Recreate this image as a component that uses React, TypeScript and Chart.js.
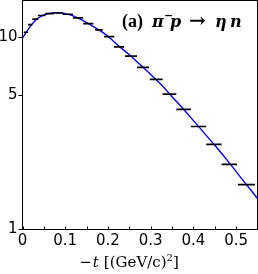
import React, { useEffect, useRef } from 'react';
import { Chart, registerables } from 'chart.js';
Chart.register(...registerables);

// measured bins (center of -t, half width, value)
const binCenters = [0.008, 0.018, 0.030, 0.045, 0.063, 0.084, 0.106, 0.130, 0.154, 0.179, 0.203, 0.226, 0.254, 0.282, 0.313, 0.344, 0.377, 0.412, 0.448, 0.484, 0.524];
const binHalfWidths = [0.005, 0.005, 0.007, 0.009, 0.010, 0.011, 0.012, 0.012, 0.012, 0.009, 0.012, 0.012, 0.014, 0.014, 0.015, 0.016, 0.017, 0.018, 0.018, 0.018, 0.020];
const binValues = [10.6, 11.6, 12.4, 12.95, 13.25, 13.35, 13.15, 12.6, 11.75, 10.9, 10.05, 8.9, 7.97, 6.96, 6.03, 5.06, 4.21, 3.43, 2.77, 2.18, 1.71];

// model curve
const curveT = [0, 0.01, 0.02, 0.03, 0.045, 0.06, 0.08, 0.10, 0.12, 0.14, 0.16, 0.18, 0.20, 0.225, 0.25, 0.275, 0.30, 0.325, 0.35, 0.375, 0.40, 0.425, 0.45, 0.475, 0.50, 0.525, 0.55];
const curveValues = [9.9, 10.7, 11.5, 12.2, 12.9, 13.25, 13.4, 13.25, 12.85, 12.25, 11.55, 10.85, 10.1, 9.0, 8.1, 7.2, 6.4, 5.65, 4.9, 4.27, 3.68, 3.18, 2.74, 2.35, 2.0, 1.7, 1.45];

const xTickValues = [0, 0.05, 0.1, 0.15, 0.2, 0.25, 0.3, 0.35, 0.4, 0.45, 0.5, 0.55];
const xTickLabels = ['0', '', '0.1', '', '0.2', '', '0.3', '', '0.4', '', '0.5', ''];
const yTickValues = [1, 5, 10];
const yTickLabels = ['1', '5', '10'];

const SERIF = '"Liberation Serif", "DejaVu Serif", serif';
const DSERIF = '"DejaVu Serif", serif';

type Piece = { t: string; font: string; dy?: number; gap?: number };

function drawPieces(ctx: CanvasRenderingContext2D, pieces: Piece[], x: number, y: number, align: 'left' | 'center') {
  let total = 0;
  for (const p of pieces) {
    ctx.font = p.font;
    total += ctx.measureText(p.t).width + (p.gap || 0);
  }
  let cx = align === 'center' ? x - total / 2 : x;
  ctx.textBaseline = 'alphabetic';
  ctx.textAlign = 'left';
  for (const p of pieces) {
    ctx.font = p.font;
    ctx.fillText(p.t, cx, y + (p.dy || 0));
    cx += ctx.measureText(p.t).width + (p.gap || 0);
  }
}

const framePlugin = {
  id: 'frame',
  afterDraw(chart: any) {
    const { ctx, chartArea } = chart;
    const xs = chart.scales.x;
    ctx.save();
    ctx.strokeStyle = '#000';
    ctx.lineWidth = 1;
    ctx.strokeRect(chartArea.left, chartArea.top, chartArea.right - chartArea.left, chartArea.bottom - chartArea.top);
    // inward x ticks
    ctx.beginPath();
    for (const v of xTickValues) {
      const px = Math.round(xs.getPixelForValue(v)) + 0.5;
      ctx.moveTo(px, chartArea.bottom);
      ctx.lineTo(px, chartArea.bottom - 3);
    }
    ctx.stroke();
    ctx.fillStyle = '#000';
    // panel title
    ctx.textBaseline = 'alphabetic';
    ctx.textAlign = 'left';
    const title: [string, string, number, number][] = [
      ['(a)', `bold 18px ${SERIF}`, 122, 27],
      ['π', `bold italic 16px ${DSERIF}`, 152, 27],
      ['−', `bold 11px ${DSERIF}`, 164, 19],
      ['p', `bold italic 16px ${DSERIF}`, 170, 27],
      ['→', `bold 20px ${DSERIF}`, 189, 27],
      ['η', `bold italic 16px ${DSERIF}`, 215, 27],
      ['n', `bold italic 16px ${DSERIF}`, 230, 27],
    ];
    for (const [t, f, x, y] of title) {
      ctx.font = f;
      ctx.fillText(t, x, y);
    }
    // x axis title
    drawPieces(ctx, [
      { t: '−', font: `15px ${DSERIF}`, gap: 1 },
      { t: 't', font: `italic 15px ${DSERIF}`, gap: 5 },
      { t: '[(GeV/c)', font: `15px ${DSERIF}` },
      { t: '2', font: `10px ${DSERIF}`, dy: -6 },
      { t: ']', font: `15px ${DSERIF}` },
    ], 129, 267, 'center');
    ctx.restore();
  },
};

export default function App() {
  const ref = useRef<HTMLCanvasElement>(null);
  useEffect(() => {
    document.body.style.margin = '0';
    const bars: any[] = [];
    binCenters.forEach((c, i) => {
      bars.push({ x: c - binHalfWidths[i], y: binValues[i] });
      bars.push({ x: c + binHalfWidths[i], y: binValues[i] });
      bars.push({ x: c + binHalfWidths[i], y: null });
    });
    const curve = curveT.map((t, i) => ({ x: t, y: curveValues[i] }));
    const chart = new Chart(ref.current!, {
      type: 'scatter',
      data: {
        datasets: [
          { data: bars, showLine: true, borderColor: '#000', borderWidth: 1.7, pointRadius: 0, spanGaps: false } as any,
          { data: curve, showLine: true, borderColor: '#0000ff', borderWidth: 1.4, pointRadius: 0, tension: 0.4, cubicInterpolationMode: 'monotone' } as any,
        ],
      },
      options: {
        responsive: false,
        animation: false,
        events: [],
        layout: { padding: { left: 0, right: 0.5, top: 0.5, bottom: 0 } },
        plugins: { legend: { display: false }, tooltip: { enabled: false } },
        scales: {
          x: {
            type: 'linear',
            min: 0,
            max: 0.55,
            afterBuildTicks: (s: any) => { s.ticks = xTickValues.map((v) => ({ value: v })); },
            afterFit: (s: any) => { s.height = 44.5; s.paddingLeft = 0; s.paddingRight = 0; },
            ticks: {
              callback: (_v: any, i: number) => xTickLabels[i],
              font: { family: 'DejaVu Sans', size: 15 },
              color: '#000',
              padding: 3,
              maxRotation: 0,
              autoSkip: false,
            },
            grid: { display: true, drawOnChartArea: false, drawTicks: false },
            border: { display: false },
          },
          y: {
            type: 'logarithmic',
            min: 1,
            max: 15.5,
            afterBuildTicks: (s: any) => { s.ticks = yTickValues.map((v) => ({ value: v })); },
            afterFit: (s: any) => { s.width = 22.5; s.paddingTop = 0; s.paddingBottom = 0; },
            ticks: {
              callback: (_v: any, i: number) => yTickLabels[i],
              font: { family: 'DejaVu Sans', size: 15 },
              color: '#000',
              padding: 1,
              autoSkip: false,
            },
            grid: { display: true, drawOnChartArea: false, drawTicks: true, tickLength: 4, color: '#000' },
            border: { display: false },
          },
        },
      } as any,
      plugins: [framePlugin],
    });
    return () => chart.destroy();
  }, []);
  return (
    <div style={{ width: 258, height: 274 }}>
      <canvas ref={ref} width={258} height={274} style={{ display: 'block' }} />
    </div>
  );
}
